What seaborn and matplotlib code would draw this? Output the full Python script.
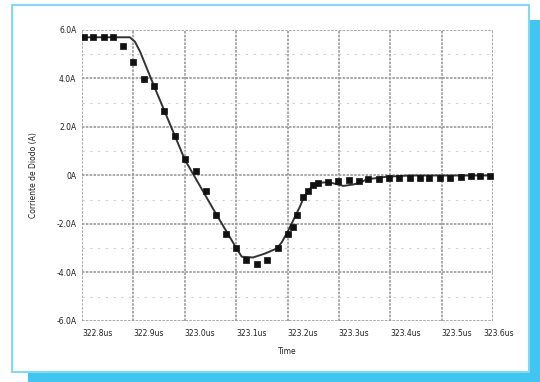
import matplotlib
matplotlib.use("Agg")
import matplotlib.pyplot as plt
import matplotlib.transforms as mtransforms
from matplotlib.patches import Rectangle
import numpy as np
import pandas as pd
import seaborn as sns

# Simulated diode current (solid trace)
sim_time = [322.800, 322.893, 322.903, 322.913, 322.940, 323.000, 323.060, 323.100,
            323.111, 323.133, 323.156, 323.179, 323.189, 323.202, 323.224, 323.232,
            323.240, 323.250, 323.263, 323.275, 323.289, 323.309, 323.328, 323.341,
            323.354, 323.393, 323.438, 323.600]
sim_current = [5.70, 5.70, 5.52, 5.11, 3.70, 0.66, -1.55, -2.98,
               -3.35, -3.38, -3.22, -3.01, -2.75, -2.25, -1.29, -0.89,
               -0.63, -0.41, -0.30, -0.28, -0.32, -0.43, -0.37, -0.30,
               -0.16, -0.05, 0.00, 0.00]

# Measured diode current (square markers)
meas_time = [322.803, 322.822, 322.842, 322.860, 322.880, 322.900, 322.921, 322.940,
             322.960, 322.981, 323.001, 323.021, 323.041, 323.060, 323.080, 323.100,
             323.119, 323.140, 323.160, 323.181, 323.200, 323.210, 323.219, 323.230,
             323.239, 323.249, 323.260, 323.279, 323.299, 323.320, 323.340, 323.357,
             323.379, 323.398, 323.418, 323.438, 323.457, 323.475, 323.497, 323.516,
             323.538, 323.557, 323.575, 323.594]
meas_current = [5.70, 5.70, 5.70, 5.70, 5.33, 4.67, 3.99, 3.69,
                2.66, 1.63, 0.66, 0.17, -0.63, -1.63, -2.42, -2.98,
                -3.47, -3.64, -3.47, -2.99, -2.42, -2.12, -1.61, -0.87,
                -0.63, -0.41, -0.31, -0.26, -0.21, -0.19, -0.21, -0.13,
                -0.13, -0.12, -0.12, -0.12, -0.12, -0.12, -0.12, -0.09,
                -0.05, -0.02, -0.02, -0.01]

x_ticks = [322.8, 322.9, 323.0, 323.1, 323.2, 323.3, 323.4, 323.5, 323.6]
x_tick_labels = ["322.8us", "322.9us", "323.0us", "323.1us", "323.2us",
                 "323.3us", "323.4us", "323.5us", "323.6us"]
y_ticks = [-6, -4, -2, 0, 2, 4, 6]
y_tick_labels = ["-6.0A", "-4.0A", "-2.0A", "0A", "2.0A", "4.0A", "6.0A"]
y_minor = [-5, -3, -1, 1, 3, 5]

sns.set_theme(style="white")
plt.rcParams["font.family"] = ["DejaVu Sans"]

W, H = 540, 382
fig = plt.figure(figsize=(W / 100, H / 100), dpi=100)
fig.patch.set_facecolor("white")

# Card with offset blue shadow
fig.patches.append(Rectangle((28 / W, 0), 512 / W, 362 / H, transform=fig.transFigure,
                             facecolor="#41c5f1", edgecolor="none", zorder=0))
fig.patches.append(Rectangle((12 / W, 1 - 372 / H), 517 / W, 367 / H, transform=fig.transFigure,
                             facecolor="white", edgecolor="#86d8f2", linewidth=1.5, zorder=1))

ax = fig.add_axes([82 / W, 1 - 321 / H, 411 / W, 291 / H])
ax.set_facecolor("white")
ax.set_zorder(2)

sim = pd.DataFrame({"t": sim_time, "i": sim_current})
meas = pd.DataFrame({"t": meas_time, "i": meas_current})

sns.lineplot(data=sim, x="t", y="i", ax=ax, color="#333333", linewidth=1.4,
             sort=False, zorder=3)
sns.scatterplot(data=meas, x="t", y="i", ax=ax, marker="s", s=14, color="#111111",
                edgecolor="#111111", linewidth=0.5, zorder=4)

ax.set_xlim(322.8, 323.6)
ax.set_ylim(-6, 6)

grid_kw = dict(color="#9a9a9a", linewidth=1.2, linestyle=(0, (1.5, 0.8)), zorder=1)
for xv in x_ticks:
    ax.axvline(xv, **grid_kw)
for yv in y_ticks:
    ax.axhline(yv, **grid_kw)
for yv in y_minor:
    ax.axhline(yv, color="#cfcfcf", linewidth=0.8, linestyle=(0, (2, 5)), zorder=1)

for sp in ax.spines.values():
    sp.set_visible(False)

ax.set_xticks(x_ticks)
ax.set_xticklabels(x_tick_labels)
ax.set_yticks(y_ticks)
ax.set_yticklabels(y_tick_labels)
ax.tick_params(axis="both", length=0, labelsize=5.5, colors="#222222")
ax.tick_params(axis="x", pad=6)
ax.tick_params(axis="y", pad=4)

for i, lab in enumerate(ax.get_xticklabels()):
    lab.set_ha("left")
    if i == len(x_tick_labels) - 1:
        lab.set_transform(lab.get_transform() +
                          mtransforms.ScaledTranslation(-10 / 100, 0, fig.dpi_scale_trans))

ax.set_xlabel("Time", fontsize=5.5, color="#222222", labelpad=6)
ax.set_ylabel("Corriente de Diodo (A)", fontsize=5.5, color="#222222", labelpad=13)

fig.savefig("out.png", dpi=100, facecolor="white")
